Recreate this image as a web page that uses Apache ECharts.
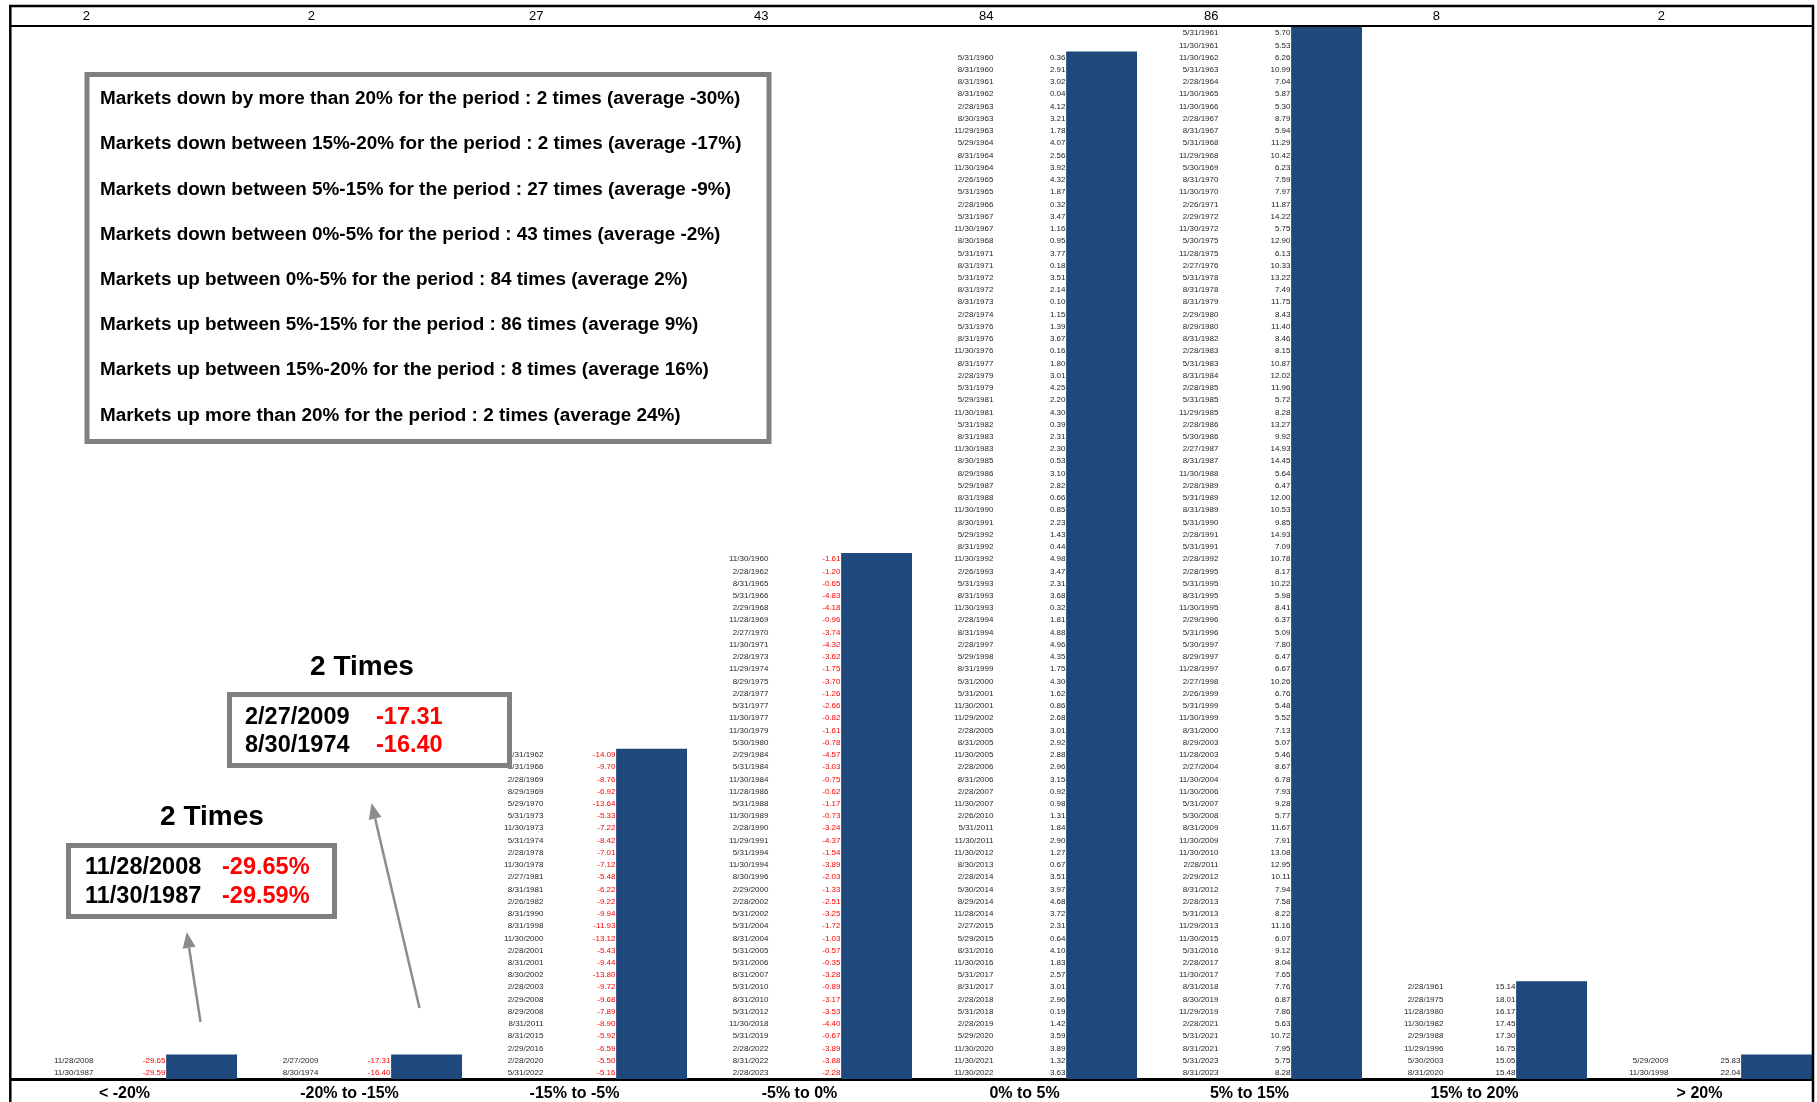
<!DOCTYPE html>
<html>
<head>
<meta charset="utf-8">
<script src="https://cdn.jsdelivr.net/npm/echarts/dist/echarts.min.js"></script>
<style>
  html, body { margin: 0; padding: 0; background: #ffffff; }
  #chart { width: 1817px; height: 1102px; }
</style>
</head>
<body>
<div id="chart"></div>
<script>
// Return buckets (x categories) and how many quarters fell in each
const categories = ['< -20%', '-20% to -15%', '-15% to -5%', '-5% to 0%', '0% to 5%', '5% to 15%', '15% to 20%', '> 20%'];
const counts = [2, 2, 27, 43, 84, 86, 8, 2];

// Quarter-end dates and period returns (%) listed in each bucket, top row first
const datesBelow20 = ['11/28/2008', '11/30/1987'];
const returnsBelow20 = [-29.65, -29.59];

const datesMinus20to15 = ['2/27/2009', '8/30/1974'];
const returnsMinus20to15 = [-17.31, -16.40];

const datesMinus15to5 = ['5/31/1962', '8/31/1966', '2/28/1969', '8/29/1969', '5/29/1970', '5/31/1973', '11/30/1973', '5/31/1974', '2/28/1978', '11/30/1978', '2/27/1981', '8/31/1981', '2/26/1982', '8/31/1990', '8/31/1998', '11/30/2000', '2/28/2001', '8/31/2001', '8/30/2002', '2/28/2003', '2/29/2008', '8/29/2008', '8/31/2011', '8/31/2015', '2/29/2016', '2/28/2020', '5/31/2022'];
const returnsMinus15to5 = [-14.09, -9.70, -8.76, -6.92, -13.64, -5.33, -7.22, -8.42, -7.01, -7.12, -5.48, -6.22, -9.22, -9.94, -11.93, -13.12, -5.43, -9.44, -13.80, -9.72, -9.68, -7.89, -8.90, -5.92, -6.59, -5.50, -5.16];

const datesMinus5to0 = ['11/30/1960', '2/28/1962', '8/31/1965', '5/31/1966', '2/29/1968', '11/28/1969', '2/27/1970', '11/30/1971', '2/28/1973', '11/29/1974', '8/29/1975', '2/28/1977', '5/31/1977', '11/30/1977', '11/30/1979', '5/30/1980', '2/29/1984', '5/31/1984', '11/30/1984', '11/28/1986', '5/31/1988', '11/30/1989', '2/28/1990', '11/29/1991', '5/31/1994', '11/30/1994', '8/30/1996', '2/29/2000', '2/28/2002', '5/31/2002', '5/31/2004', '8/31/2004', '5/31/2005', '5/31/2006', '8/31/2007', '5/31/2010', '8/31/2010', '5/31/2012', '11/30/2018', '5/31/2019', '2/28/2022', '8/31/2022', '2/28/2023'];
const returnsMinus5to0 = [-1.61, -1.20, -0.65, -4.83, -4.18, -0.96, -3.74, -4.32, -3.62, -1.75, -3.70, -1.26, -2.66, -0.82, -1.61, -0.78, -4.57, -3.03, -0.75, -0.62, -1.17, -0.73, -3.24, -4.37, -1.54, -3.89, -2.03, -1.33, -2.51, -3.25, -1.72, -1.03, -0.57, -0.35, -3.28, -0.89, -3.17, -3.53, -4.40, -0.67, -3.89, -3.88, -2.28];

const dates0to5 = ['5/31/1960', '8/31/1960', '8/31/1961', '8/31/1962', '2/28/1963', '8/30/1963', '11/29/1963', '5/29/1964', '8/31/1964', '11/30/1964', '2/26/1965', '5/31/1965', '2/28/1966', '5/31/1967', '11/30/1967', '8/30/1968', '5/31/1971', '8/31/1971', '5/31/1972', '8/31/1972', '8/31/1973', '2/28/1974', '5/31/1976', '8/31/1976', '11/30/1976', '8/31/1977', '2/28/1979', '5/31/1979', '5/29/1981', '11/30/1981', '5/31/1982', '8/31/1983', '11/30/1983', '8/30/1985', '8/29/1986', '5/29/1987', '8/31/1988', '11/30/1990', '8/30/1991', '5/29/1992', '8/31/1992', '11/30/1992', '2/26/1993', '5/31/1993', '8/31/1993', '11/30/1993', '2/28/1994', '8/31/1994', '2/28/1997', '5/29/1998', '8/31/1999', '5/31/2000', '5/31/2001', '11/30/2001', '11/29/2002', '2/28/2005', '8/31/2005', '11/30/2005', '2/28/2006', '8/31/2006', '2/28/2007', '11/30/2007', '2/26/2010', '5/31/2011', '11/30/2011', '11/30/2012', '8/30/2013', '2/28/2014', '5/30/2014', '8/29/2014', '11/28/2014', '2/27/2015', '5/29/2015', '8/31/2016', '11/30/2016', '5/31/2017', '8/31/2017', '2/28/2018', '5/31/2018', '2/28/2019', '5/29/2020', '11/30/2020', '11/30/2021', '11/30/2022'];
const returns0to5 = [0.36, 2.91, 3.02, 0.04, 4.12, 3.21, 1.78, 4.07, 2.56, 3.92, 4.32, 1.87, 0.32, 3.47, 1.16, 0.95, 3.77, 0.18, 3.51, 2.14, 0.10, 1.15, 1.39, 3.67, 0.16, 1.80, 3.01, 4.25, 2.20, 4.30, 0.39, 2.31, 2.30, 0.53, 3.10, 2.82, 0.66, 0.85, 2.23, 1.43, 0.44, 4.98, 3.47, 2.31, 3.68, 0.32, 1.81, 4.88, 4.96, 4.35, 1.75, 4.30, 1.62, 0.86, 2.68, 3.01, 2.92, 2.88, 2.96, 3.15, 0.92, 0.98, 1.31, 1.84, 2.90, 1.27, 0.67, 3.51, 3.97, 4.68, 3.72, 2.31, 0.64, 4.10, 1.83, 2.57, 3.01, 2.96, 0.19, 1.42, 3.59, 3.89, 1.32, 3.63];

const dates5to15 = ['5/31/1961', '11/30/1961', '11/30/1962', '5/31/1963', '2/28/1964', '11/30/1965', '11/30/1966', '2/28/1967', '8/31/1967', '5/31/1968', '11/29/1968', '5/30/1969', '8/31/1970', '11/30/1970', '2/26/1971', '2/29/1972', '11/30/1972', '5/30/1975', '11/28/1975', '2/27/1976', '5/31/1978', '8/31/1978', '8/31/1979', '2/29/1980', '8/29/1980', '8/31/1982', '2/28/1983', '5/31/1983', '8/31/1984', '2/28/1985', '5/31/1985', '11/29/1985', '2/28/1986', '5/30/1986', '2/27/1987', '8/31/1987', '11/30/1988', '2/28/1989', '5/31/1989', '8/31/1989', '5/31/1990', '2/28/1991', '5/31/1991', '2/28/1992', '2/28/1995', '5/31/1995', '8/31/1995', '11/30/1995', '2/29/1996', '5/31/1996', '5/30/1997', '8/29/1997', '11/28/1997', '2/27/1998', '2/26/1999', '5/31/1999', '11/30/1999', '8/31/2000', '8/29/2003', '11/28/2003', '2/27/2004', '11/30/2004', '11/30/2006', '5/31/2007', '5/30/2008', '8/31/2009', '11/30/2009', '11/30/2010', '2/28/2011', '2/29/2012', '8/31/2012', '2/28/2013', '5/31/2013', '11/29/2013', '11/30/2015', '5/31/2016', '2/28/2017', '11/30/2017', '8/31/2018', '8/30/2019', '11/29/2019', '2/28/2021', '5/31/2021', '8/31/2021', '5/31/2023', '8/31/2023'];
const returns5to15 = [5.70, 5.53, 6.26, 10.99, 7.04, 5.87, 5.30, 8.79, 5.94, 11.29, 10.42, 6.23, 7.59, 7.97, 11.87, 14.22, 5.75, 12.90, 6.13, 10.33, 13.22, 7.49, 11.75, 8.43, 11.40, 8.46, 8.15, 10.87, 12.02, 11.96, 5.72, 8.28, 13.27, 9.92, 14.93, 14.45, 5.64, 6.47, 12.00, 10.53, 9.85, 14.93, 7.09, 10.78, 8.17, 10.22, 5.98, 8.41, 6.37, 5.09, 7.80, 6.47, 6.67, 10.26, 6.76, 5.48, 5.52, 7.13, 5.07, 5.46, 8.67, 6.78, 7.93, 9.28, 5.77, 11.67, 7.91, 13.08, 12.95, 10.11, 7.94, 7.58, 8.22, 11.16, 6.07, 9.12, 8.04, 7.65, 7.76, 6.87, 7.86, 5.63, 10.72, 7.95, 5.75, 8.28];

const dates15to20 = ['2/28/1961', '2/28/1975', '11/28/1980', '11/30/1982', '2/29/1988', '11/29/1996', '5/30/2003', '8/31/2020'];
const returns15to20 = [15.14, 18.01, 16.17, 17.45, 17.30, 16.75, 15.05, 15.48];

const datesAbove20 = ['5/29/2009', '11/30/1998'];
const returnsAbove20 = [25.83, 22.04];

// Summary panel text
const summaryLines = [
  'Markets down by more than 20% for the period : 2 times (average -30%)',
  'Markets down between 15%-20% for the period : 2 times (average -17%)',
  'Markets down between 5%-15% for the period : 27 times (average -9%)',
  'Markets down between 0%-5% for the period : 43 times (average -2%)',
  'Markets up between 0%-5% for the period : 84 times (average 2%)',
  'Markets up between 5%-15% for the period : 86 times (average 9%)',
  'Markets up between 15%-20% for the period : 8 times (average 16%)',
  'Markets up more than 20% for the period : 2 times (average 24%)'
];

// Callout contents for the two worst buckets
const calloutTitle = '2 Times';
const calloutCrashDates = ['11/28/2008', '11/30/1987'];
const calloutCrashReturns = ['-29.65%', '-29.59%'];
const calloutBearDates = ['2/27/2009', '8/30/1974'];
const calloutBearReturns = ['-17.31', '-16.40'];

// ---------------------------------------------------------------------------
const dateLists = [datesBelow20, datesMinus20to15, datesMinus15to5, datesMinus5to0, dates0to5, dates5to15, dates15to20, datesAbove20];
const returnLists = [returnsBelow20, returnsMinus20to15, returnsMinus15to5, returnsMinus5to0, returns0to5, returns5to15, returns15to20, returnsAbove20];

// One text row per quarter, stacked from the top of its bucket's column
const rows = [];
dateLists.forEach(function (list, c) {
  const n = list.length;
  list.forEach(function (d, j) {
    rows.push({ c: c, y: n - j - 0.5, date: d, ret: returnLists[c][j] });
  });
});

const BAR_COLOR = '#1f497d';
const BAR_START = 0.685;   // bar occupies the right part of each band
const DATE_RIGHT = 0.362;  // right edge of the date column within a band
const VALUE_RIGHT = 0.682; // right edge of the return column within a band
const COUNT_POS = 0.33;    // count label position in the header row
const FONT = '"Liberation Sans", Arial, sans-serif';

const chart = echarts.init(document.getElementById('chart'), null, { renderer: 'canvas' });

function arrow(x1, y1, x2, y2) {
  // shaft from (x1,y1) to tip (x2,y2) with a filled head
  const dx = x2 - x1, dy = y2 - y1;
  const len = Math.sqrt(dx * dx + dy * dy);
  const ux = dx / len, uy = dy / len;
  const headLen = 16, headHalf = 6.5;
  const bx = x2 - ux * headLen, by = y2 - uy * headLen;
  return [
    { type: 'line', z: 10, shape: { x1: x1, y1: y1, x2: bx, y2: by }, style: { stroke: '#8c8c8c', lineWidth: 2.5 } },
    { type: 'polygon', z: 10, shape: { points: [[x2, y2], [bx - uy * headHalf, by + ux * headHalf], [bx + uy * headHalf, by - ux * headHalf]] }, style: { fill: '#8c8c8c' } }
  ];
}

const graphics = [];
// outer frame and header row rule
graphics.push({ type: 'line', z: 20, shape: { x1: 9, y1: 6, x2: 1814, y2: 6 }, style: { stroke: '#000', lineWidth: 2.5 } });
graphics.push({ type: 'line', z: 20, shape: { x1: 9, y1: 26, x2: 1814, y2: 26 }, style: { stroke: '#000', lineWidth: 2 } });
graphics.push({ type: 'line', z: 20, shape: { x1: 10.3, y1: 5, x2: 10.3, y2: 1102 }, style: { stroke: '#000', lineWidth: 2.5 } });
graphics.push({ type: 'line', z: 20, shape: { x1: 1813, y1: 5, x2: 1813, y2: 1102 }, style: { stroke: '#000', lineWidth: 2.5 } });

// summary panel
graphics.push({ type: 'rect', z: 10, shape: { x: 87, y: 74.5, width: 682, height: 367 }, style: { fill: '#fff', stroke: '#808080', lineWidth: 5 } });
summaryLines.forEach(function (t, k) {
  graphics.push({ type: 'text', z: 11, style: { text: t, x: 100, y: 99 + k * 45.2, verticalAlign: 'middle', fill: '#000', font: 'bold 18.9px ' + FONT } });
});

// callout for "-20% to -15%"
graphics.push({ type: 'text', z: 11, style: { text: calloutTitle, x: 362, y: 667, align: 'center', verticalAlign: 'middle', fill: '#000', font: 'bold 28px ' + FONT } });
graphics.push({ type: 'rect', z: 10, shape: { x: 229.5, y: 694.5, width: 280, height: 71 }, style: { fill: null, stroke: '#808080', lineWidth: 5 } });
calloutBearDates.forEach(function (d, k) {
  graphics.push({ type: 'text', z: 11, style: { text: d, x: 245, y: 717.5 + k * 28.5, verticalAlign: 'middle', fill: '#000', font: 'bold 23.5px ' + FONT } });
  graphics.push({ type: 'text', z: 11, style: { text: calloutBearReturns[k], x: 376, y: 717.5 + k * 28.5, verticalAlign: 'middle', fill: '#ff0000', font: 'bold 23.5px ' + FONT } });
});

// callout for "< -20%"
graphics.push({ type: 'text', z: 11, style: { text: calloutTitle, x: 212, y: 817, align: 'center', verticalAlign: 'middle', fill: '#000', font: 'bold 28px ' + FONT } });
graphics.push({ type: 'rect', z: 10, shape: { x: 68.5, y: 845.5, width: 266, height: 71 }, style: { fill: null, stroke: '#808080', lineWidth: 5 } });
calloutCrashDates.forEach(function (d, k) {
  graphics.push({ type: 'text', z: 11, style: { text: d, x: 85, y: 867.5 + k * 29, verticalAlign: 'middle', fill: '#000', font: 'bold 23.5px ' + FONT } });
  graphics.push({ type: 'text', z: 11, style: { text: calloutCrashReturns[k], x: 222, y: 867.5 + k * 29, verticalAlign: 'middle', fill: '#ff0000', font: 'bold 23.5px ' + FONT } });
});

// pointer arrows from the buckets to their callouts
arrow(200.5, 1022, 186.7, 932).forEach(function (g) { graphics.push(g); });
arrow(419.5, 1008, 371.5, 803).forEach(function (g) { graphics.push(g); });

const option = {
  animation: false,
  backgroundColor: '#ffffff',
  grid: { left: 12, right: 5, top: 27, bottom: 17.5, containLabel: false },
  xAxis: {
    type: 'category',
    data: categories,
    boundaryGap: true,
    axisLine: { show: true, lineStyle: { color: '#000', width: 3 } },
    axisTick: { show: false },
    axisLabel: { margin: 7, color: '#000', fontSize: 16, fontWeight: 'bold', fontFamily: FONT },
    splitLine: { show: false }
  },
  yAxis: {
    type: 'value',
    min: 0,
    max: 86,
    show: false
  },
  series: [
    {
      // bucket size bars
      type: 'custom',
      name: 'count',
      data: counts.map(function (v, i) { return [i, v]; }),
      encode: { x: 0, y: 1 },
      clip: false,
      z: 2,
      renderItem: function (params, api) {
        const i = api.value(0);
        const base = api.coord([i, 0]);
        const top = api.coord([i, api.value(1)]);
        const w = api.size([1, 0])[0];
        const left = base[0] - w / 2 + BAR_START * w;
        return { type: 'rect', shape: { x: left, y: top[1], width: w * (1 - BAR_START), height: base[1] - top[1] }, style: { fill: BAR_COLOR } };
      }
    },
    {
      // header row counts
      type: 'custom',
      name: 'header',
      data: counts.map(function (v, i) { return [i, 86]; }),
      encode: { x: 0, y: 1 },
      clip: false,
      z: 3,
      renderItem: function (params, api) {
        const i = api.value(0);
        const p = api.coord([i, api.value(1)]);
        const w = api.size([1, 0])[0];
        return { type: 'text', style: { text: String(counts[params.dataIndex]), x: p[0] - w / 2 + COUNT_POS * w, y: p[1] - 11, align: 'center', verticalAlign: 'middle', fill: '#000', font: '13px ' + FONT } };
      }
    },
    {
      // date / return listing for every quarter
      type: 'custom',
      name: 'quarters',
      data: rows.map(function (r) { return [r.c, r.y]; }),
      encode: { x: 0, y: 1 },
      clip: false,
      z: 3,
      renderItem: function (params, api) {
        const r = rows[params.dataIndex];
        const p = api.coord([api.value(0), api.value(1)]);
        const w = api.size([1, 0])[0];
        const left = p[0] - w / 2;
        return {
          type: 'group',
          children: [
            { type: 'text', style: { text: r.date, x: left + DATE_RIGHT * w, y: p[1], align: 'right', verticalAlign: 'middle', fill: '#262626', font: '8px ' + FONT } },
            { type: 'text', style: { text: r.ret.toFixed(2), x: left + VALUE_RIGHT * w, y: p[1], align: 'right', verticalAlign: 'middle', fill: r.ret < 0 ? '#ff0000' : '#1a1a1a', font: '8px ' + FONT } }
          ]
        };
      }
    }
  ],
  graphic: { elements: graphics }
};

chart.setOption(option);
</script>
</body>
</html>
